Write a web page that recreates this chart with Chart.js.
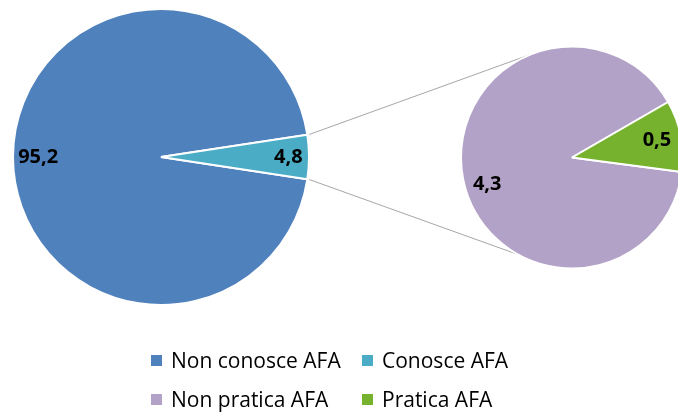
<!DOCTYPE html>
<html>
<head>
<meta charset="utf-8">
<script src="https://cdn.jsdelivr.net/npm/chart.js@4"></script>
<style>
  html, body { margin: 0; padding: 0; background: #fff; }
  #wrap { position: relative; width: 678px; height: 415px; overflow: hidden; font-family: "Open Sans", sans-serif; }
  #sinistra { position: absolute; left: 0; top: 0; }
  #destra { position: absolute; left: 400px; top: 0; }
  #legenda { position: absolute; left: 151px; top: 350px; display: grid; grid-template-columns: 211px auto; row-gap: 18px; font-size: 21px; line-height: 21px; color: #000; }
  .voce { display: flex; align-items: center; white-space: nowrap; }
  .quad { width: 11px; height: 11px; margin-right: 9px; flex: none; }
</style>
</head>
<body>
<div id="wrap">
  <canvas id="sinistra" width="678" height="415"></canvas>
  <canvas id="destra" width="400" height="415"></canvas>
  <div id="legenda"></div>
</div>
<script>
// Dati
const categorie = ['Non conosce AFA', 'Conosce AFA'];
const valori = [95.2, 4.8];
const sottoCategorie = ['Non pratica AFA', 'Pratica AFA'];
const sottoValori = [4.3, 0.5];
const colori = ['#4F81BD', '#4BACC6'];
const sottoColori = ['#B3A2C7', '#77B22F'];

const fmt = v => v.toFixed(1).replace('.', ',');

// etichette dentro le fette (fattore radiale, spostamento angolare in gradi)
function pluginEtichette(fattore, spost) {
    return {
        id: 'etichette',
        afterDatasetsDraw(chart) {
            const ctx = chart.ctx;
            const meta = chart.getDatasetMeta(0);
            const dati = chart.data.datasets[0].data;
            ctx.save();
            ctx.font = 'bold 20px "Open Sans"';
            ctx.fillStyle = '#000';
            ctx.textAlign = 'center';
            ctx.textBaseline = 'middle';
            meta.data.forEach((arc, i) => {
                const p = arc.getProps(['x', 'y', 'startAngle', 'endAngle', 'outerRadius'], true);
                const a = (p.startAngle + p.endAngle) / 2 + spost[i] * Math.PI / 180;
                const r = p.outerRadius * fattore[i];
                ctx.fillText(fmt(dati[i]), p.x + Math.cos(a) * r, p.y + Math.sin(a) * r);
            });
            ctx.restore();
        }
    };
}

// grafico di dettaglio (a destra)
const destra = new Chart(document.getElementById('destra'), {
    type: 'pie',
    data: {
        labels: sottoCategorie,
        datasets: [{ data: sottoValori, backgroundColor: sottoColori, borderColor: '#fff', borderWidth: 2 }]
    },
    options: {
        responsive: false,
        animation: false,
        rotation: 97.5,
        layout: { padding: { left: 60, top: 45, right: 116, bottom: 145 } },
        plugins: { legend: { display: false }, tooltip: { enabled: false } }
    },
    plugins: [pluginEtichette([0.8, 0.78], [-6, 0])]
});

// linee di collegamento
const pluginLinee = {
    id: 'linee',
    afterDatasetsDraw(chart) {
        const arc = chart.getDatasetMeta(0).data[1];
        const p = arc.getProps(['x', 'y', 'startAngle', 'endAngle', 'outerRadius'], true);
        const d = destra.getDatasetMeta(0).data[0].getProps(['x', 'y', 'outerRadius'], true);
        const dx = d.x + 400;
        const ang = [249, 119].map(g => g * Math.PI / 180);
        const ctx = chart.ctx;
        ctx.save();
        ctx.strokeStyle = '#A6A6A6';
        ctx.lineWidth = 1;
        [[p.startAngle, ang[0]], [p.endAngle, ang[1]]].forEach(([a, b]) => {
            ctx.beginPath();
            ctx.moveTo(p.x + Math.cos(a) * (p.outerRadius + 2), p.y + Math.sin(a) * (p.outerRadius + 2));
            ctx.lineTo(dx + Math.cos(b) * d.outerRadius, d.y + Math.sin(b) * d.outerRadius);
            ctx.stroke();
        });
        ctx.restore();
    }
};

const quotaTeal = valori[1] / (valori[0] + valori[1]) * 360;
const sinistra = new Chart(document.getElementById('sinistra'), {
    type: 'pie',
    data: {
        labels: categorie,
        datasets: [{ data: valori, backgroundColor: colori, borderColor: '#fff', borderWidth: 2 }]
    },
    options: {
        responsive: false,
        animation: false,
        rotation: 90 + quotaTeal / 2,
        layout: { padding: { left: 12, top: 8, right: 368, bottom: 109 } },
        plugins: { legend: { display: false }, tooltip: { enabled: false } }
    },
    plugins: [pluginEtichette([0.83, 0.86], [0, 0]), pluginLinee]
});

// legenda
const legenda = document.getElementById('legenda');
categorie.concat(sottoCategorie).forEach((nome, i) => {
    const col = colori.concat(sottoColori)[i];
    const el = document.createElement('div');
    el.className = 'voce';
    el.innerHTML = '<span class="quad" style="background:' + col + '"></span><span>' + nome + '</span>';
    legenda.appendChild(el);
});
</script>
</body>
</html>
